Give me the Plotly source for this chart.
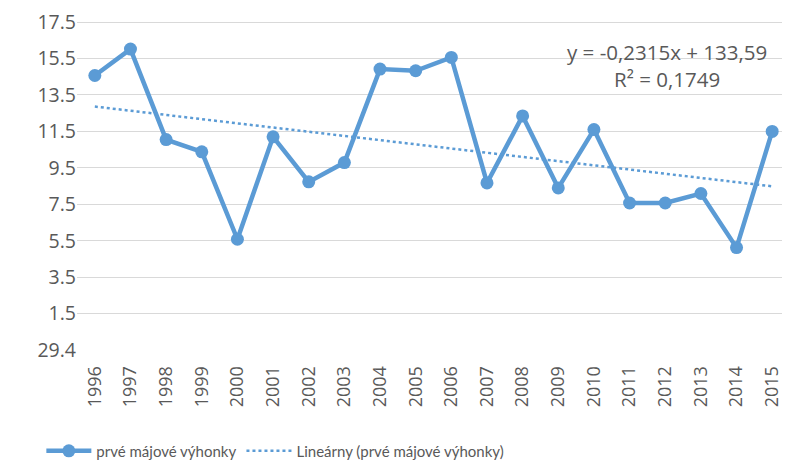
import numpy as np
import plotly.graph_objects as go

years = [str(y) for y in range(1996, 2016)]
values = [14.57, 16.02, 11.05, 10.38, 5.58, 11.2, 8.73, 9.79, 14.92, 14.83,
          15.56, 8.67, 12.35, 8.4, 11.6, 7.57, 7.57, 8.09, 5.12, 11.5]
ytick_vals = [-0.5, 1.5, 3.5, 5.5, 7.5, 9.5, 11.5, 13.5, 15.5, 17.5]
ytick_text = ["29.4", "1.5", "3.5", "5.5", "7.5", "9.5", "11.5", "13.5", "15.5", "17.5"]
series_name = "prvé májové výhonky"
trend_name = "Lineárny (prvé májové výhonky)"
eq_text = "y = -0,2315x + 133,59<br>R² = 0,1749"

idx = np.arange(1, len(values) + 1)
slope, intercept = np.polyfit(idx, values, 1)
trend = slope * idx + intercept

blue = "#5B9BD5"
gray = "#595959"
axfont = "'Open Sans', sans-serif"
legfont = "Lato, sans-serif"

fig = go.Figure()
fig.add_trace(go.Scatter(x=years, y=values, mode="lines+markers", name=series_name,
                         line=dict(color=blue, width=4.5),
                         marker=dict(color=blue, size=13)))
fig.add_trace(go.Scatter(x=years, y=trend, mode="lines", name=trend_name,
                         line=dict(color=blue, width=2.5, dash="dot")))

fig.add_annotation(x=0.827, y=0.845, xref="paper", yref="paper", text=eq_text,
                   showarrow=False, align="center", xanchor="center", yanchor="middle",
                   font=dict(size=20.5, color=gray, family=axfont))

# page body has an 8px margin: figure is 782x457 so it fills the 790x465 window
fig.update_layout(
    width=782, height=457,
    margin=dict(l=69, r=0, t=5, b=115, autoexpand=False),
    paper_bgcolor="white", plot_bgcolor="white",
    font=dict(family=axfont, color=gray, size=19),
    showlegend=True,
    legend=dict(orientation="h", x=-0.05, xanchor="left", y=-0.30, yanchor="middle",
                font=dict(size=15, color=gray, family=legfont), itemwidth=45),
    xaxis=dict(type="category", range=[-0.5, 19.5], tickangle=-90, showgrid=False,
               showline=False, ticks="outside", ticklen=8, tickcolor="rgba(0,0,0,0)",
               tickfont=dict(size=18, color=gray, family=axfont),
               zeroline=False, automargin=False),
    yaxis=dict(range=[-0.5, 18.0], tickvals=ytick_vals, ticktext=ytick_text,
               showgrid=True, gridcolor="#D9D9D9", gridwidth=1.3, zeroline=False,
               showline=False, ticks="", automargin=False, ticklabeloverflow="allow",
               tickfont=dict(size=19.5, color=gray, family=axfont)),
)

fig.write_html("out.html")
